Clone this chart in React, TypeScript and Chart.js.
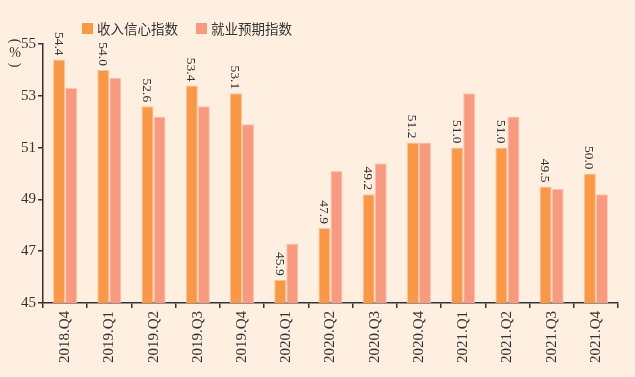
import React, { useEffect, useRef } from "react";
import { Chart, registerables } from "chart.js";

Chart.register(...registerables);

const categories = [
  "2018.Q4", "2019.Q1", "2019.Q2", "2019.Q3", "2019.Q4",
  "2020.Q1", "2020.Q2", "2020.Q3", "2020.Q4",
  "2021.Q1", "2021.Q2", "2021.Q3", "2021.Q4",
];
const incomeConfidence = [54.4, 54.0, 52.6, 53.4, 53.1, 45.9, 47.9, 49.2, 51.2, 51.0, 51.0, 49.5, 50.0];
const employmentExpectation = [53.3, 53.7, 52.2, 52.6, 51.9, 47.3, 50.1, 50.4, 51.2, 53.1, 52.2, 49.4, 49.2];
const seriesNames = ["收入信心指数", "就业预期指数"];
const yTitle = "%";

const ORANGE = "#f89848";
const ORANGE_BORDER = "#fbc597";
const PINK = "#f79a80";
const PINK_BORDER = "#fbc4b2";
const BG = "#feefe1";
const TEXT = "#333333";
const SERIF = "'Liberation Serif', 'DejaVu Serif', serif";
const CJK = "'Noto Sans CJK SC', sans-serif";

const W = 635;
const H = 377;

export default function App() {
  const ref = useRef<HTMLCanvasElement | null>(null);

  useEffect(() => {
    const canvas = ref.current;
    if (!canvas) return;

    const decor = {
      id: "decor",
      beforeDraw(chart: any) {
        const ctx = chart.ctx;
        ctx.save();
        ctx.fillStyle = BG;
        ctx.fillRect(0, 0, chart.width, chart.height);
        ctx.restore();
      },
      afterDraw(chart: any) {
        const ctx = chart.ctx;
        ctx.save();
        // legend
        const items = [
          { x: 82, color: ORANGE, text: seriesNames[0] },
          { x: 196, color: PINK, text: seriesNames[1] },
        ];
        ctx.font = `13.5px ${CJK}`;
        ctx.textBaseline = "middle";
        ctx.textAlign = "left";
        for (const it of items) {
          ctx.fillStyle = it.color;
          ctx.fillRect(it.x, 23, 11, 11);
          ctx.fillStyle = TEXT;
          ctx.fillText(it.text, it.x + 15, 28.5);
        }
        // y title (vertical "（%）")
        ctx.font = `14px ${SERIF}`;
        ctx.fillStyle = TEXT;
        ctx.textAlign = "center";
        ctx.textBaseline = "middle";
        ctx.save();
        ctx.translate(15, 41);
        ctx.rotate(Math.PI / 2);
        ctx.fillText("(", 0, 0);
        ctx.restore();
        ctx.fillText(yTitle, 15, 53);
        ctx.save();
        ctx.translate(15, 65);
        ctx.rotate(Math.PI / 2);
        ctx.fillText(")", 0, 0);
        ctx.restore();

        // value labels for orange bars
        const meta = chart.getDatasetMeta(0);
        ctx.font = `13.5px ${SERIF}`;
        ctx.fillStyle = TEXT;
        ctx.textAlign = "right";
        ctx.textBaseline = "middle";
        meta.data.forEach((bar: any, i: number) => {
          const v = incomeConfidence[i];
          ctx.save();
          ctx.translate(bar.x - 1, bar.y - 4);
          ctx.rotate(Math.PI / 2);
          ctx.fillText(v.toFixed(1), 0, 0);
          ctx.restore();
        });
        ctx.restore();
      },
    };

    const chart = new Chart(canvas, {
      type: "bar",
      data: {
        labels: categories,
        datasets: [
          {
            label: seriesNames[0],
            data: incomeConfidence,
            backgroundColor: ORANGE,
            borderColor: ORANGE_BORDER,
            borderWidth: 1,
            categoryPercentage: 0.545,
            barPercentage: 1,
          },
          {
            label: seriesNames[1],
            data: employmentExpectation,
            backgroundColor: PINK,
            borderColor: PINK_BORDER,
            borderWidth: 1,
            categoryPercentage: 0.545,
            barPercentage: 1,
          },
        ],
      },
      options: {
        responsive: false,
        animation: false,
        devicePixelRatio: 1,
        layout: { padding: { top: 44, right: 17, left: 0, bottom: 0 } },
        plugins: {
          legend: { display: false },
          tooltip: { enabled: false },
          title: { display: false },
        },
        scales: {
          x: {
            afterFit: (s: any) => { s.height = 74; },
            grid: {
              display: true,
              offset: true,
              drawOnChartArea: false,
              drawTicks: true,
              tickLength: 5,
              color: TEXT,
              lineWidth: 1.5,
            },
            border: { display: true, color: TEXT, width: 1.5 },
            ticks: {
              color: TEXT,
              font: { family: SERIF, size: 15 },
              maxRotation: 90,
              minRotation: 90,
              padding: 3,
              autoSkip: false,
            },
          },
          y: {
            min: 45,
            max: 55,
            afterFit: (s: any) => { s.width = 43; },
            grid: {
              display: true,
              drawOnChartArea: false,
              drawTicks: true,
              tickLength: 5,
              color: TEXT,
              lineWidth: 1.5,
            },
            border: { display: true, color: TEXT, width: 1.5 },
            ticks: {
              stepSize: 2,
              color: TEXT,
              font: { family: SERIF, size: 15 },
              padding: 2,
            },
          },
        },
      },
      plugins: [decor],
    });

    return () => chart.destroy();
  }, []);

  return (
    <div style={{ position: "fixed", left: 0, top: 0, width: W, height: H, background: BG }}>
      <canvas ref={ref} width={W} height={H} style={{ display: "block", width: W, height: H }} />
    </div>
  );
}
